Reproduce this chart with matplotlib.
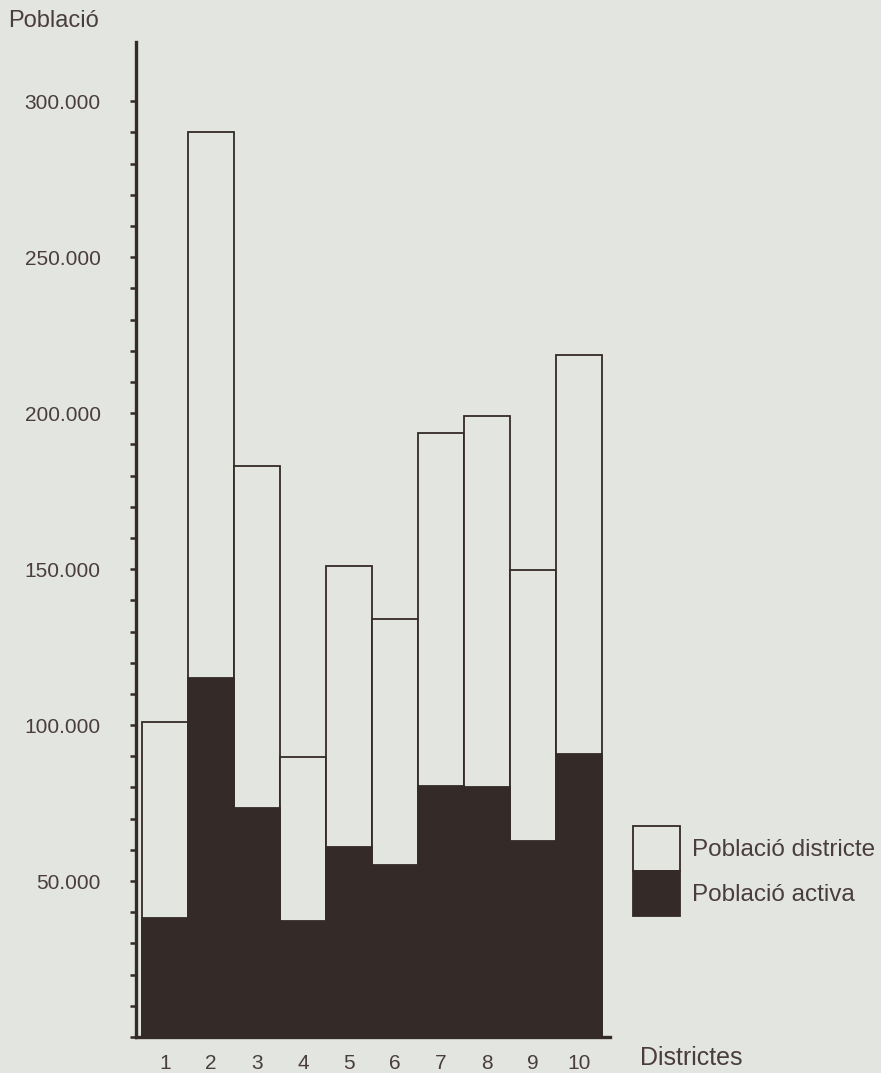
import numpy as np
import matplotlib.pyplot as plt
from matplotlib.ticker import FixedLocator, FuncFormatter
from matplotlib.patches import Patch

districtes = [1, 2, 3, 4, 5, 6, 7, 8, 9, 10]
poblacio_districte = [101000, 290000, 183000, 89700, 151000, 134000, 193600, 199000, 149700, 218600]
poblacio_activa = [38000, 115000, 73400, 37200, 61000, 55000, 80400, 80000, 62800, 90700]

paper = '#e3e5e0'
ink = '#342a28'
text_col = '#4a3d3d'

plt.rcParams['font.family'] = ['Liberation Sans', 'DejaVu Sans']

fig = plt.figure(figsize=(8.81, 10.73), dpi=100, facecolor=paper)
W, H = 881, 1073
# axes in pixel placement: left 136, right 610, bottom 1037, top 42
ax = fig.add_axes([136 / W, 1 - 1037 / H, (610 - 136) / W, (1037 - 42) / H])
ax.set_facecolor(paper)

x = np.array(districtes)
ax.bar(x, poblacio_districte, width=1.0, color=paper, edgecolor=ink, linewidth=1.3, zorder=2)
ax.bar(x, poblacio_activa, width=1.0, color=ink, edgecolor=ink, linewidth=1.3, zorder=3)

ax.set_xlim(0.37, 10.67)
ax.set_ylim(0, 319000)

for s in ['top', 'right']:
    ax.spines[s].set_visible(False)
ax.spines['left'].set_linewidth(2.4)
ax.spines['bottom'].set_linewidth(2.4)
ax.spines['left'].set_color(ink)
ax.spines['bottom'].set_color(ink)

ax.yaxis.set_major_locator(FixedLocator(np.arange(0, 300001, 50000)))
ax.yaxis.set_minor_locator(FixedLocator(np.arange(0, 300001, 10000)))
ax.yaxis.set_major_formatter(FuncFormatter(lambda v, p: '' if v == 0 else f'{int(v):,}'.replace(',', '.')))
ax.tick_params(axis='y', which='both', direction='out', length=4.5, width=1.8, color=ink,
               labelsize=15, labelcolor=text_col, pad=21)
ax.set_xticks(x)
ax.set_xticklabels([str(d) for d in districtes])
ax.tick_params(axis='x', length=0, labelsize=15, labelcolor=text_col, pad=12)

fig.text(8 / W, 1 - 21 / H, 'Població', fontsize=17, color=text_col, ha='left', va='center')
fig.text(640 / W, 1 - 1058 / H, 'Districtes', fontsize=18, color=text_col, ha='left', va='center')

handles = [Patch(facecolor=paper, edgecolor=ink, linewidth=1.3),
           Patch(facecolor=ink, edgecolor=ink, linewidth=1.3)]
fig.legend(handles, ['Població districte', 'Població activa'],
           loc='upper left', bbox_to_anchor=(633 / W, 1 - 826 / H),
           frameon=False, fontsize=17.5, labelcolor=text_col,
           handlelength=1.93, handleheight=2.47, labelspacing=0.0,
           handletextpad=0.5, borderpad=0, borderaxespad=0)

fig.savefig('out.png', dpi=100, facecolor=paper)
